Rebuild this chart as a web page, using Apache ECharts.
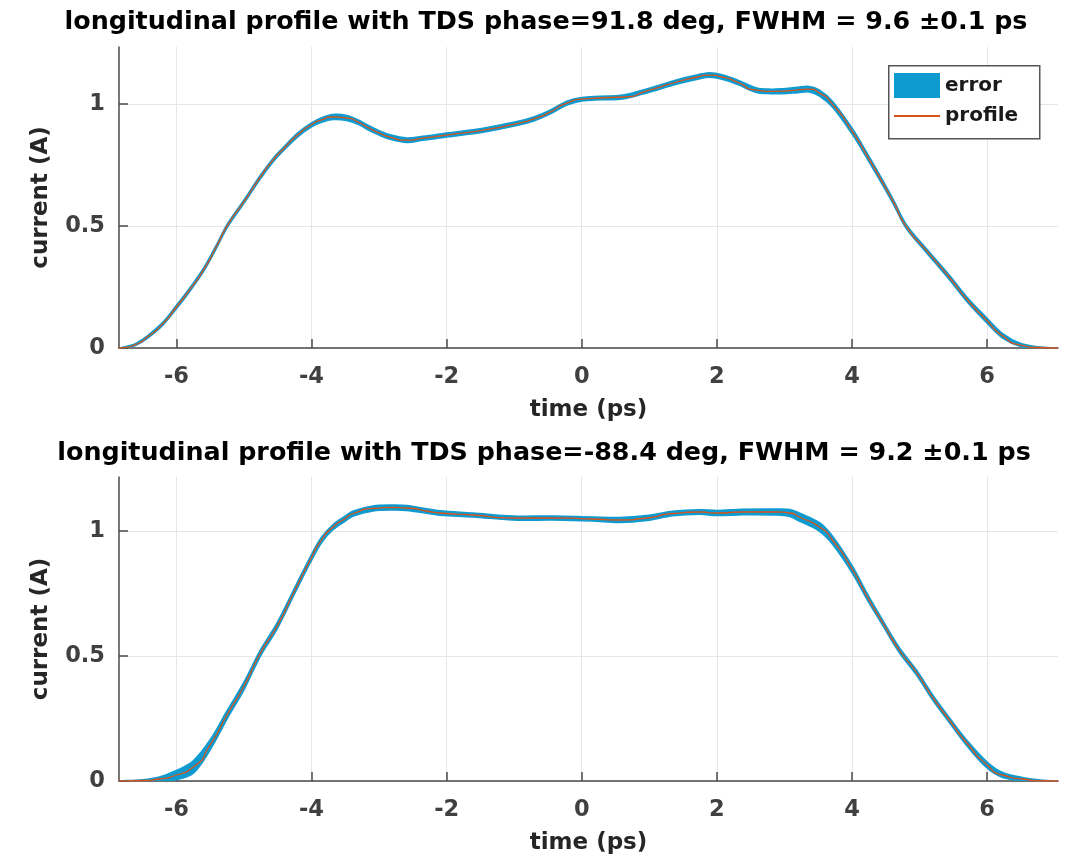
<!DOCTYPE html>
<html>
<head>
<meta charset="utf-8">
<script src="https://cdn.jsdelivr.net/npm/echarts@6/dist/echarts.min.js"></script>
<style>
html,body{margin:0;padding:0;background:#fff;}
#chart{width:1076px;height:864px;}
</style>
</head>
<body>
<div id="chart"></div>
<script>
// ---- data ----
const titleTop = 'longitudinal profile with TDS phase=91.8 deg, FWHM = 9.6 \u00b10.1 ps';
const titleBottom = 'longitudinal profile with TDS phase=-88.4 deg, FWHM = 9.2 \u00b10.1 ps';
const xLabel = 'time (ps)';
const yLabel = 'current (A)';
const xTicks = [-6, -4, -2, 0, 2, 4, 6];
const yTicks = [0, 0.5, 1];

const timeTop = [-6.85, -6.73, -6.6, -6.43, -6.2, -6.0, -5.8, -5.6, -5.4, -5.25,
  -5.0, -4.76, -4.57, -4.42, -4.2, -4.0, -3.85, -3.68, -3.48, -3.3,
  -3.18, -3.0, -2.84, -2.59, -2.35, -2.0, -1.46, -0.96, -0.7, -0.47,
  -0.22, 0, 0.27, 0.61, 1.0, 1.4, 1.7, 1.89, 2.09, 2.3,
  2.59, 2.8, 2.97, 3.2, 3.37, 3.52, 3.71, 4.0, 4.22, 4.45,
  4.62, 4.8, 5.1, 5.44, 5.7, 6.0, 6.23, 6.5, 6.75, 7.05];
const profileTop = [0, 0.004, 0.015, 0.045, 0.10, 0.168, 0.24, 0.32, 0.42, 0.50,
  0.60, 0.70, 0.77, 0.815, 0.875, 0.915, 0.935, 0.947, 0.943, 0.925,
  0.906, 0.882, 0.865, 0.852, 0.86, 0.873, 0.893, 0.92, 0.94, 0.967,
  1.004, 1.02, 1.025, 1.029, 1.057, 1.09, 1.11, 1.119, 1.11, 1.09,
  1.057, 1.052, 1.053, 1.058, 1.061, 1.045, 1.0, 0.89, 0.79, 0.68,
  0.595, 0.50, 0.40, 0.29, 0.20, 0.112, 0.05, 0.012, 0.002, 0];
const errorTop = [0, 0.003, 0.004, 0.005, 0.006, 0.007, 0.007, 0.007, 0.007, 0.007,
  0.007, 0.007, 0.007, 0.007, 0.008, 0.008, 0.009, 0.01, 0.01, 0.009,
  0.009, 0.009, 0.009, 0.009, 0.008, 0.008, 0.008, 0.008, 0.008, 0.008,
  0.008, 0.007, 0.007, 0.008, 0.008, 0.009, 0.009, 0.009, 0.009, 0.009,
  0.009, 0.009, 0.01, 0.011, 0.011, 0.012, 0.012, 0.012, 0.011, 0.01,
  0.009, 0.008, 0.008, 0.009, 0.009, 0.01, 0.009, 0.006, 0.003, 0];

const timeBottom = [-6.85, -6.5, -6.25, -6.0, -5.75, -5.5, -5.25, -5.0, -4.76, -4.51,
  -4.27, -4.02, -3.85, -3.68, -3.5, -3.38, -3.09, -2.8, -2.59, -2.3,
  -2.1, -1.61, -1.02, -0.43, 0.16, 0.56, 0.96, 1.35, 1.75, 2.0,
  2.38, 2.88, 3.08, 3.22, 3.52, 3.71, 4.0, 4.22, 4.45, 4.7,
  4.96, 5.19, 5.44, 5.7, 6.0, 6.23, 6.52, 6.82, 7.05];
const profileBottom = [0, 0.002, 0.008, 0.024, 0.056, 0.145, 0.265, 0.38, 0.51, 0.62,
  0.75, 0.884, 0.965, 1.016, 1.05, 1.07, 1.09, 1.094, 1.092, 1.08,
  1.072, 1.064, 1.052, 1.052, 1.048, 1.044, 1.052, 1.07, 1.076, 1.072,
  1.076, 1.076, 1.072, 1.056, 1.016, 0.964, 0.848, 0.74, 0.635, 0.524,
  0.432, 0.336, 0.244, 0.152, 0.064, 0.024, 0.008, 0.001, 0];
const errorBottom = [0, 0.003, 0.008, 0.018, 0.025, 0.02, 0.016, 0.015, 0.012, 0.012,
  0.012, 0.012, 0.011, 0.01, 0.01, 0.01, 0.01, 0.01, 0.01, 0.009,
  0.009, 0.008, 0.008, 0.008, 0.008, 0.01, 0.01, 0.009, 0.009, 0.01,
  0.011, 0.012, 0.014, 0.016, 0.017, 0.016, 0.014, 0.012, 0.01, 0.01,
  0.01, 0.01, 0.01, 0.011, 0.012, 0.01, 0.006, 0.002, 0];

// ---- styling ----
const FONT = 'DejaVu Sans, Verdana, sans-serif';
const bandColor = '#0f9bd0';
const lineColor = '#d95319';
const axisColor = '#4a4a4a';
const SMOOTH = 0.8;

function pairs(t, v) { return t.map((x, i) => [x, v[i]]); }
function bandRows(t, p, e) { return t.map((x, i) => [x, p[i] - e[i], p[i] + e[i]]); }

function xAxisFor(gi) {
  return {
    type: 'value', gridIndex: gi, min: -6.85, max: 7.05,
    name: xLabel, nameLocation: 'middle', nameGap: 51,
    nameTextStyle: { fontFamily: FONT, fontSize: 23, fontWeight: 'bold', color: '#262626' },
    axisLine: { show: true, onZero: false, lineStyle: { color: axisColor, width: 1.5 } },
    axisTick: { show: true, inside: true, length: 9, customValues: xTicks, lineStyle: { color: axisColor, width: 1.5 } },
    axisLabel: { customValues: xTicks, margin: 18, fontFamily: FONT, fontSize: 22.5, fontWeight: 'bold', color: '#404040' },
    splitLine: { show: true, lineStyle: { color: '#e6e6e6', width: 1 } }
  };
}
function yAxisFor(gi, max) {
  return {
    type: 'value', gridIndex: gi, min: 0, max: max,
    name: yLabel, nameLocation: 'middle', nameGap: 66,
    nameTextStyle: { fontFamily: FONT, fontSize: 23, fontWeight: 'bold', color: '#262626' },
    axisLine: { show: true, onZero: false, lineStyle: { color: axisColor, width: 1.5 } },
    axisTick: { show: true, inside: true, length: 9, customValues: yTicks, lineStyle: { color: axisColor, width: 1.5 } },
    axisLabel: { customValues: yTicks, margin: 14, fontFamily: FONT, fontSize: 22.5, fontWeight: 'bold', color: '#404040' },
    splitLine: { show: true, lineStyle: { color: '#e6e6e6', width: 1 } }
  };
}

function seriesFor(gi, t, p, e) {
  const rows = bandRows(t, p, e);
  return [
    {
      name: 'error', type: 'custom', xAxisIndex: gi, yAxisIndex: gi,
      data: rows, encode: { x: 0, y: [1, 2] },
      itemStyle: { color: bandColor }, silent: true, z: 2, clip: true,
      renderItem: function (params, api) {
        if (params.dataIndex !== 0) return null;
        const upper = rows.map(r => api.coord([r[0], r[2]]));
        const lowerPts = rows.map(r => api.coord([r[0], r[1]])).reverse();
        return {
          type: 'polygon',
          shape: { points: upper.concat(lowerPts), smooth: 0.35 },
          style: { fill: bandColor, stroke: bandColor, lineWidth: 1.6 }
        };
      }
    },
    {
      name: 'profile', type: 'line', xAxisIndex: gi, yAxisIndex: gi,
      data: pairs(t, p), smooth: SMOOTH, showSymbol: false,
      itemStyle: { color: lineColor },
      lineStyle: { width: 1.3, color: lineColor }, silent: true, z: 3
    }
  ];
}

const chart = echarts.init(document.getElementById('chart'), null, { renderer: 'canvas' });
chart.setOption({
  animation: false,
  backgroundColor: '#ffffff',
  title: [
    { text: titleTop, left: 546, top: 10, textAlign: 'center', padding: 0,
      textStyle: { fontFamily: FONT, fontSize: 25.4, fontWeight: 'bold', color: '#000' } },
    { text: titleBottom, left: 544, top: 441, textAlign: 'center', padding: 0,
      textStyle: { fontFamily: FONT, fontSize: 25.4, fontWeight: 'bold', color: '#000' } }
  ],
  grid: [
    { left: 119, right: 18, top: 47, height: 301 },
    { left: 119, right: 18, top: 477, height: 304 }
  ],
  xAxis: [xAxisFor(0), xAxisFor(1)],
  yAxis: [yAxisFor(0, 1.234), yAxisFor(1, 1.216)],
  legend: [
    { data: [{ name: 'error', icon: 'rect' }], left: 894, top: 73, padding: 0,
      itemWidth: 46, itemHeight: 25, selectedMode: false, z: 20,
      textStyle: { fontFamily: FONT, fontSize: 20, fontWeight: 'bold', color: '#1a1a1a' } },
    { data: [{ name: 'profile', icon: 'rect' }], left: 894, top: 106, padding: 0,
      itemWidth: 46, itemHeight: 2, selectedMode: false, z: 20,
      textStyle: { fontFamily: FONT, fontSize: 20, fontWeight: 'bold', color: '#1a1a1a' } }
  ],
  graphic: [
    { type: 'rect', left: 888, top: 65, z: 10,
      shape: { width: 151, height: 73 },
      style: { fill: '#fff', stroke: '#555', lineWidth: 1.5 } }
  ],
  series: [].concat(
    seriesFor(0, timeTop, profileTop, errorTop),
    seriesFor(1, timeBottom, profileBottom, errorBottom)
  )
});
</script>
</body>
</html>
